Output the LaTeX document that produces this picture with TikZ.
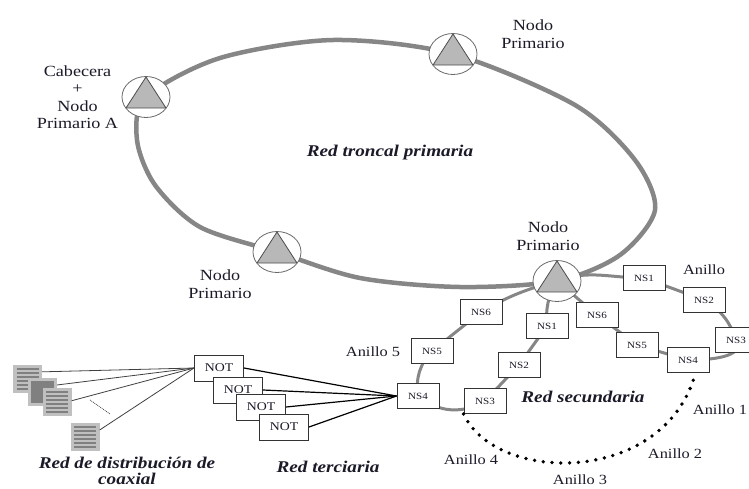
\documentclass[tikz,border=0pt]{standalone}
\usepackage{fontspec}
\setmainfont{Liberation Serif}[FakeStretch=1.17]
\usepackage[svgnames]{xcolor}
\usetikzlibrary{shapes.geometric,positioning,calc,backgrounds}

\definecolor{anillogris}{RGB}{134,134,134}
\definecolor{triangris}{RGB}{184,184,184}
\definecolor{tinta}{RGB}{26,26,40}

\begin{document}
\begin{tikzpicture}[x=1pt, y=-1pt,
        primario/.style={ellipse, draw=DimGray, line width=0.8pt, fill=white,
            minimum width=48pt, minimum height=41pt, inner sep=0pt,
            path picture={\filldraw[fill=triangris, draw=black!70, line width=0.8pt]
                ($(path picture bounding box.center)+(0,-20)$) -- ++(-20,31) -- ++(40,0) -- cycle;}},
        caja/.style={draw=black!80, fill=white, line width=1pt, inner sep=0pt, text=tinta},
        ns/.style={caja, minimum width=42pt, minimum height=25pt, font=\fontsize{9.5}{10}\selectfont},
        onu/.style={caja, minimum width=49pt, minimum height=26pt, font=\fontsize{11.8}{12}\selectfont},
        coax/.style={fill=Silver, minimum width=29pt, minimum height=28pt, inner sep=0pt,
            path picture={\foreach \k in {-10,-6,...,10}
                \draw[Gray, line width=2pt] ([shift={(3.5pt,\k pt)}]path picture bounding box.west)
                    -- ([shift={(-3.5pt,\k pt)}]path picture bounding box.east);}},
        etiqueta/.style={text=tinta, align=center, font=\fontsize{15.5}{17.5}\selectfont},
        anillo/.style={text=tinta, font=\fontsize{14}{16}\selectfont},
        rotulo/.style={text=tinta, align=center, font=\fontsize{16.4}{18}\selectfont\bfseries\itshape},
        troncal/.style={anillogris, line width=4.5pt},
        secundaria/.style={anillogris, line width=3pt},
        fibra/.style={black, line width=1.2pt},
        coaxial/.style={black!75, line width=0.8pt},
        punteado/.style={black, line width=3.8pt, line cap=round, dash pattern=on 0pt off 8.8pt}
    ]
    \useasboundingbox (0,0) rectangle (749,488);

    % nodos primarios
    \node[primario] (pA) at (146,97)  {};
    \node[primario] (pB) at (453,54)  {};
    \node[primario] (pC) at (277,252) {};
    \node[primario] (pD) at (557,281) {};

    \node[etiqueta, left=0pt of pA] (tA) {Cabecera\\+\\Nodo\\Primario A};
    \node[etiqueta] (tB) at (533,34)  {Nodo\\Primario};
    \node[etiqueta] (tC) at (220,284) {Nodo\\Primario};
    \node[etiqueta] (tD) at (548,236) {Nodo\\Primario};
    \node[rotulo] (rT) at (390,153) {Red troncal primaria};

    % anillos secundarios
    \node[ns] (ns6l) at (481,312) {NS6};
    \node[ns] (ns5l) at (432,351) {NS5};
    \node[ns] (ns4l) at (418,396) {NS4};
    \node[ns] (ns3l) at (485,401) {NS3};
    \node[ns] (ns2l) at (519,365) {NS2};
    \node[ns] (ns1l) at (547,326) {NS1};

    \node[ns] (ns1r) at (644,278) {NS1};
    \node[ns] (ns2r) at (704,300) {NS2};
    \node[ns] (ns3r) at (736,340) {NS3};
    \node[ns] (ns4r) at (688,360) {NS4};
    \node[ns] (ns5r) at (637,345) {NS5};
    \node[ns] (ns6r) at (597,315) {NS6};

    \node[anillo] (a0) at (704,270) {Anillo};
    \node[anillo] (a5) at (373,352) {Anillo 5};
    \node[anillo] (a1) at (720,410) {Anillo 1};
    \node[anillo] (a2) at (675,454) {Anillo 2};
    \node[anillo] (a3) at (580,480) {Anillo 3};
    \node[anillo] (a4) at (471,460) {Anillo 4};
    \node[rotulo] (rS) at (583,397) {Red secundaria};

    \draw[punteado] (ns3l.south west) .. controls (497,485) and (665,485) .. (ns4r.-60);

    % red terciaria
    \node[onu] (not1) at (219,368) {NOT};
    \node[onu] (not2) at ([shift={(19,22)}]not1) {NOT};
    \node[onu] (not3) at ([shift={(23,17)}]not2) {NOT};
    \node[onu] (not4) at ([shift={(23,20)}]not3) {NOT};
    \node[rotulo] (rR) at (328,467) {Red terciaria};

    \foreach \n in {1,...,4}
        \draw[fibra] (not\n.east) -- (ns4l.west);

    % red coaxial
    \node[coax] (ico1) at (27.5,379) {};
    \node[coax, path picture={\fill[Gray] ([shift={(3pt,3pt)}]path picture bounding box.south west)
        rectangle ([shift={(-3pt,-3pt)}]path picture bounding box.north east);}] (ico2) at (42.5,391.5) {};
    \node[coax] (ico3) at (57,402) {};
    \node[coax] (ico4) at (85,436.5) {};
    \node[rotulo, font=\fontsize{16.4}{16.5}\selectfont\bfseries\itshape] (rC) at (127,471) {Red de distribución de\\coaxial};

    \foreach \i/\a in {1/26, 2/24, 3/5, 4/24}
        \draw[coaxial] (ico\i.\a) -- (not1.west);
    \draw[coaxial, densely dotted] (90,400) -- (110,414);

    \begin{pgfonlayer}{background}
        \draw[troncal] plot[smooth cycle] coordinates {(pA.center) (220,58) (333,40) (pB.center)
            (575,105) (635,160) (655,210) (620,255) (pD.center) (460,287) (360,278) (pC.center)
            (200,227) (155,185) (137,140)};
        \draw[secundaria] (pD.center) to[out=195,in=30] (ns6l.center) -- (ns5l.center)
            to[bend right=25] (ns4l.center) to[bend right=35] (ns3l.center) -- (ns2l.center)
            -- (ns1l.center) to[out=95,in=-120] (pD.center);
        \draw[secundaria] (pD.center) to[out=20,in=180] (ns1r.center) -- (ns2r.center)
            to[bend left=20] (ns3r.center) to[out=-60,in=0] (ns4r.center) -- (ns5r.center)
            -- (ns6r.center) -- (pD.center);
    \end{pgfonlayer}
\end{tikzpicture}
\end{document}
